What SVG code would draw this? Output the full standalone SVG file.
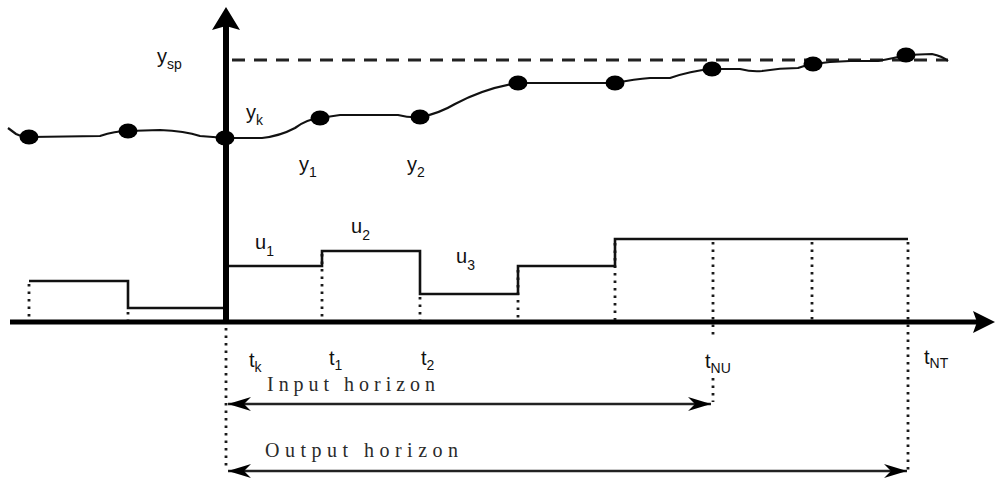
<svg xmlns="http://www.w3.org/2000/svg" width="995" height="482" viewBox="0 0 995 482">
<defs>
<style>
.lbl{font-family:"Liberation Sans","Noto Sans",Arial,sans-serif;font-size:20px;fill:#111}
.sub{font-size:14px}
.hz{font-family:"Liberation Serif","Times New Roman",serif;font-size:20px;fill:#2a2a2a}
.dot{stroke:#1a1a1a;stroke-width:2.8;stroke-dasharray:2.5 5;fill:none}
.step{stroke:#111;stroke-width:2.6;fill:none}
.curve{stroke:#111;stroke-width:2.2;fill:none}
.pt{fill:#000}
.hzl{stroke:#222;stroke-width:2.4;fill:none}
</style>
<marker id="ah" viewBox="-24 -8 26 16" refX="0" refY="0" markerWidth="26" markerHeight="16" markerUnits="userSpaceOnUse" orient="auto-start-reverse">
<path d="M0,0 L-23,-7 L-16,0 L-23,7 Z" fill="#000"/>
</marker>
</defs>
<rect width="995" height="482" fill="#fff"/>

<g id="axes">
<line x1="226" y1="24" x2="226" y2="324" stroke="#000" stroke-width="6"/>
<polygon points="226,7 240,30 226,26 212,30" fill="#000"/>
<line x1="10" y1="322" x2="978" y2="322" stroke="#000" stroke-width="5"/>
<polygon points="995,322 973,311 977,322 973,333" fill="#000"/>
</g>

<g id="setpoint">
<line x1="232" y1="60" x2="948" y2="60" stroke="#222" stroke-width="2.8" stroke-dasharray="13 9"/>
</g>

<g id="guides">
<line class="dot" x1="29" y1="284" x2="29" y2="320"/>
<line class="dot" x1="128" y1="312" x2="128" y2="320"/>
<line class="dot" x1="226" y1="328" x2="226" y2="470"/>
<line class="dot" x1="322" y1="254" x2="322" y2="320"/>
<line class="dot" x1="420" y1="297" x2="420" y2="320"/>
<line class="dot" x1="518" y1="270" x2="518" y2="320"/>
<line class="dot" x1="615" y1="243" x2="615" y2="320"/>
<line class="dot" x1="713" y1="242" x2="713" y2="336"/>
<line class="dot" x1="713" y1="378" x2="713" y2="402"/>
<line class="dot" x1="812" y1="242" x2="812" y2="320"/>
<line class="dot" x1="908" y1="242" x2="908" y2="470"/>
</g>

<g id="input-signal">
<path class="step" d="M29,281 H128 V308 H223"/>
<path class="step" d="M229,266 H322 V251 H420 V294 H518 V266 H615 V239 H908"/>
</g>

<g id="output-curve">
<path class="curve" d="M8,128 L16,134 Q22,137 30,137 L100,136 Q115,131 128,131 L160,130 Q185,131 200,136 L226,138 L262,138 Q280,136 295,128 Q307,119 320,118 L340,115 L398,115 Q410,118 421,117 Q440,113 455,104 Q485,88 518,83 L615,83 Q635,79 650,78 L670,78 Q690,71 712,69 L740,69 Q752,72 762,71 Q780,68 798,68 Q806,65 813,64 L830,62 L850,61 L878,61 Q895,58 906,55 L932,54 Q942,56 948,61"/>
<ellipse class="pt" cx="29" cy="137" rx="9.5" ry="7.5"/>
<ellipse class="pt" cx="128" cy="131" rx="9.5" ry="7.5"/>
<ellipse class="pt" cx="225" cy="138" rx="9.5" ry="7.5"/>
<ellipse class="pt" cx="320" cy="118" rx="9.5" ry="7.5"/>
<ellipse class="pt" cx="420" cy="117" rx="9.5" ry="7.5"/>
<ellipse class="pt" cx="518" cy="83" rx="9.5" ry="7.5"/>
<ellipse class="pt" cx="615" cy="83" rx="9.5" ry="7.5"/>
<ellipse class="pt" cx="712" cy="69" rx="9.5" ry="7.5"/>
<ellipse class="pt" cx="813" cy="64" rx="9.5" ry="7.5"/>
<ellipse class="pt" cx="906" cy="55" rx="9.5" ry="7.5"/>
</g>

<g id="horizons">
<line class="hzl" x1="228" y1="404" x2="711" y2="404" marker-start="url(#ah)" marker-end="url(#ah)"/>
<line class="hzl" x1="228" y1="471" x2="907" y2="471" marker-start="url(#ah)" marker-end="url(#ah)"/>
</g>

<g id="labels">
<text class="lbl" x="157" y="63">y<tspan class="sub" dy="6">sp</tspan></text>
<text class="lbl" x="246" y="119">y<tspan class="sub" dy="6">k</tspan></text>
<text class="lbl" x="299" y="171">y<tspan class="sub" dy="6">1</tspan></text>
<text class="lbl" x="407" y="171">y<tspan class="sub" dy="6">2</tspan></text>
<text class="lbl" x="255" y="249">u<tspan class="sub" dy="7">1</tspan></text>
<text class="lbl" x="351" y="233">u<tspan class="sub" dy="7">2</tspan></text>
<text class="lbl" x="456" y="263">u<tspan class="sub" dy="7">3</tspan></text>
<text class="lbl" x="249" y="367">t<tspan class="sub" dy="5">k</tspan></text>
<text class="lbl" x="329" y="365">t<tspan class="sub" dy="5">1</tspan></text>
<text class="lbl" x="421" y="365">t<tspan class="sub" dy="5">2</tspan></text>
<text class="lbl" x="705" y="368">t<tspan class="sub" dy="5">NU</tspan></text>
<text class="lbl" x="924" y="364">t<tspan class="sub" dy="4">NT</tspan></text>
<text class="hz" x="267" y="391" textLength="168" lengthAdjust="spacing">Input horizon</text>
<text class="hz" x="265" y="457" textLength="193" lengthAdjust="spacing">Output horizon</text>
</g>
</svg>
